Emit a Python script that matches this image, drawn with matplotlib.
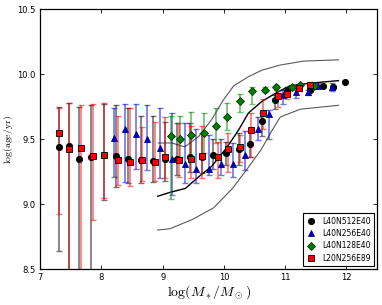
import numpy as np
import matplotlib
matplotlib.use('Agg')
import matplotlib.pyplot as plt
from matplotlib.lines import Line2D

plt.rcParams['mathtext.fontset'] = 'cm'

# L40N512E40 (black circles)
bk_x = [7.31, 7.47, 7.64, 7.83, 8.05, 8.24, 8.44, 8.65, 8.85, 9.04, 9.24, 9.45, 9.64,
        9.83, 10.04, 10.24, 10.43, 10.63, 10.84, 11.03, 11.22, 11.40, 11.61, 11.78, 11.97]
bk_y = [9.44, 9.45, 9.35, 9.36, 9.38, 9.37, 9.35, 9.34, 9.33, 9.35, 9.35, 9.36, 9.36,
        9.38, 9.39, 9.42, 9.46, 9.64, 9.80, 9.87, 9.90, 9.88, 9.91, 9.90, 9.94]
bk_hi = [9.75, 9.78, 9.75, 9.76, 9.77, 9.76, 9.74, 9.68, 9.68, 9.63, 9.62, 9.62, 9.55,
         9.50, 9.48, 9.55, 9.56, 9.70, 9.84, 9.90, 9.92, 9.90, 9.92, 9.91, 9.94]
bk_lo = [8.64, 8.30, 8.30, 8.30, 9.03, 9.13, 9.16, 9.16, 9.17, 9.18, 9.22, 9.25, 9.24,
         9.27, 9.30, 9.30, 9.36, 9.52, 9.73, 9.83, 9.88, 9.86, 9.90, 9.89, 9.94]

# L40N256E40 (blue triangles)
bl_x = [8.21, 8.38, 8.56, 8.75, 8.95, 9.16, 9.36, 9.55, 9.76, 9.95, 10.15, 10.35,
        10.56, 10.74, 10.96, 11.18, 11.37, 11.54, 11.76]
bl_y = [9.51, 9.58, 9.54, 9.50, 9.43, 9.35, 9.31, 9.27, 9.27, 9.31, 9.31, 9.38,
        9.58, 9.69, 9.84, 9.86, 9.86, 9.91, 9.90]
bl_hi = [9.74, 9.77, 9.77, 9.76, 9.74, 9.70, 9.62, 9.58, 9.53, 9.50, 9.47, 9.56,
         9.67, 9.72, 9.88, 9.89, 9.88, 9.93, 9.93]
bl_lo = [9.21, 9.17, 9.27, 9.26, 9.20, 9.07, 9.16, 9.16, 9.22, 9.22, 9.21, 9.26,
         9.49, 9.50, 9.77, 9.82, 9.84, 9.89, 9.87]

# L40N128E40 (green diamonds)
gr_x = [9.13, 9.29, 9.47, 9.67, 9.87, 10.05, 10.26, 10.46, 10.67, 10.85, 11.11, 11.25, 11.47]
gr_y = [9.52, 9.50, 9.53, 9.55, 9.60, 9.67, 9.79, 9.87, 9.88, 9.90, 9.90, 9.92, 9.91]
gr_hi = [9.68, 9.68, 9.71, 9.70, 9.74, 9.78, 9.85, 9.90, 9.90, 9.92, 9.92, 9.93, 9.92]
gr_lo = [9.04, 9.36, 9.35, 9.39, 9.47, 9.57, 9.71, 9.77, 9.86, 9.88, 9.88, 9.91, 9.90]

# L20N256E89 (red squares)
rd_x = [7.31, 7.47, 7.67, 7.87, 8.05, 8.27, 8.46, 8.66, 8.87, 9.04, 9.27, 9.47, 9.65,
        9.90, 10.07, 10.26, 10.45, 10.64, 10.88, 11.03, 11.22, 11.41]
rd_y = [9.55, 9.42, 9.43, 9.37, 9.38, 9.34, 9.32, 9.34, 9.32, 9.36, 9.34, 9.35, 9.37,
        9.36, 9.42, 9.44, 9.57, 9.70, 9.83, 9.85, 9.89, 9.92]
rd_hi = [9.74, 9.78, 9.76, 9.77, 9.78, 9.68, 9.74, 9.59, 9.63, 9.67, 9.62, 9.60, 9.60,
         9.48, 9.55, 9.53, 9.70, 9.81, 9.87, 9.88, 9.91, 9.94]
rd_lo = [8.92, 8.30, 8.30, 8.88, 9.05, 9.15, 9.14, 9.18, 9.18, 9.20, 9.21, 9.20, 9.20,
         9.20, 9.25, 9.32, 9.36, 9.58, 9.75, 9.81, 9.87, 9.90]

# reference relation: median and scatter
med_x = [8.92, 9.12, 9.37, 9.59, 9.80, 10.04, 10.24, 10.40, 10.62, 10.87, 11.08, 11.41, 11.87]
med_y = [9.06, 9.09, 9.12, 9.21, 9.29, 9.43, 9.57, 9.70, 9.79, 9.86, 9.91, 9.93, 9.95]
up_x = [8.93, 9.15, 9.36, 9.59, 9.80, 9.99, 10.16, 10.40, 10.62, 10.92, 11.30, 11.87]
up_y = [9.47, 9.47, 9.44, 9.52, 9.65, 9.80, 9.91, 9.98, 10.03, 10.07, 10.10, 10.11]
lw_x = [8.92, 9.12, 9.48, 9.83, 10.14, 10.38, 10.61, 10.79, 10.92, 11.25, 11.87]
lw_y = [8.80, 8.81, 8.88, 8.97, 9.12, 9.27, 9.42, 9.57, 9.67, 9.73, 9.76]

series = [
    ('L40N512E40', bk_x, bk_y, bk_lo, bk_hi, 'k', 'o', 4.5, 'k'),
    ('L40N256E40', bl_x, bl_y, bl_lo, bl_hi, '#0000cc', '^', 4.0, '#00008b'),
    ('L40N128E40', gr_x, gr_y, gr_lo, gr_hi, 'green', 'D', 4.2, '#003300'),
    ('L20N256E89', rd_x, rd_y, rd_lo, rd_hi, 'red', 's', 4.2, 'k'),
]

fig = plt.figure(figsize=(3.82, 3.05), dpi=100)
ax = fig.add_axes([0.105, 0.118, 0.882, 0.852])

ax.plot(up_x, up_y, color='0.35', lw=0.8, zorder=1)
ax.plot(lw_x, lw_y, color='0.35', lw=0.8, zorder=1)
ax.plot(med_x, med_y, color='k', lw=1.0, zorder=1)

handles = []
for i, (name, x, y, lo, hi, c, m, ms, ec) in enumerate(series):
    x = np.array(x)
    y = np.array(y)
    err = [y - np.array(lo), np.array(hi) - y]
    ax.errorbar(x, y, yerr=err, fmt='none', ecolor=c, elinewidth=1.2,
                capsize=2, capthick=1.0, alpha=0.55, zorder=2 + i)
    ax.plot(x, y, ls='none', marker=m, ms=ms, color=c, mec=ec, mew=0.6, zorder=6 + i)
    handles.append(Line2D([], [], ls='none', marker=m, ms=ms, color=c, mec=ec,
                          mew=0.6, label=name))

ax.set_xlim(7, 12.5)
ax.set_ylim(8.5, 10.5)
ax.set_xticks([7, 8, 9, 10, 11, 12])
ax.set_yticks([8.5, 9.0, 9.5, 10.0, 10.5])
ax.set_yticklabels(['8.5', '9.0', '9.5', '10.0', '10.5'])
ax.tick_params(direction='in', top=True, right=True, labelsize=6, length=3, width=0.6, pad=3)
for s in ax.spines.values():
    s.set_linewidth(0.9)

ax.set_xlabel(r'$\log(M_*/M_\odot)$', fontsize=10, labelpad=1)
ax.set_ylabel(r'$\log(\mathrm{age/yr})$', fontsize=7, labelpad=2)

leg = ax.legend(handles=handles, loc='lower right', fontsize=5.5, numpoints=1,
                fancybox=False, framealpha=1, edgecolor='k', borderpad=0.45,
                labelspacing=0.45, handletextpad=0.8, borderaxespad=0.35,
                handlelength=1.2)
leg.get_frame().set_linewidth(0.8)

fig.savefig('out.png', dpi=100)
